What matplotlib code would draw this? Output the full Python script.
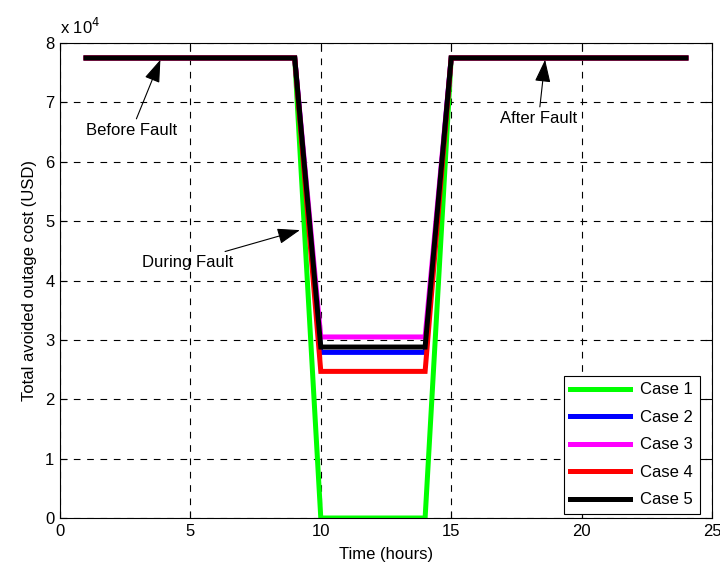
import matplotlib.pyplot as plt
import numpy as np

plt.rcParams['font.family'] = ['Liberation Sans', 'DejaVu Sans']

hours = np.arange(1, 25)
normal = 77500
plateau = {
    "Case 1": 0,
    "Case 2": 27900,
    "Case 3": 30500,
    "Case 4": 24700,
    "Case 5": 28800,
}
colors = ["#00ff00", "#0000ff", "#ff00ff", "#ff0000", "#000000"]
fault_hours = [10, 11, 12, 13, 14]

fig = plt.figure(figsize=(7.2, 5.66), dpi=100)
ax = fig.add_axes([0.0833, 0.0848, 0.9056, 0.839])

for (name, val), c in zip(plateau.items(), colors):
    y = np.where(np.isin(hours, fault_hours), val, normal) / 1e4
    ax.plot(hours, y, color=c, lw=3.6, label=name, solid_joinstyle='miter')

ax.set_xlim(0, 25)
ax.set_ylim(0, 8)
ax.set_xticks(np.arange(0, 26, 5))
ax.set_yticks(np.arange(0, 9, 1))
ax.grid(True, color='black', linestyle=(0, (6, 6)), lw=0.8)
ax.tick_params(direction='in', top=True, right=True, labelsize=12, length=5, pad=4)
for s in ax.spines.values():
    s.set_linewidth(0.8)
ax.set_xlabel("Time (hours)", fontsize=12, labelpad=6)
ax.set_ylabel("Total avoided outage cost (USD)", fontsize=12, labelpad=6)
ax.text(0.0, 1.012, r"x 10$^4$", transform=ax.transAxes, fontsize=12, va='bottom')

arrow = dict(arrowstyle='-|>,head_length=1.0,head_width=0.35', color='black',
             lw=0.8, mutation_scale=14, shrinkA=1, shrinkB=0)
ax.annotate("Before Fault", xy=(3.85, 7.72), xytext=(2.75, 6.53), fontsize=12,
            ha='center', va='center', arrowprops=arrow)
ax.annotate("After Fault", xy=(18.6, 7.72), xytext=(18.35, 6.73), fontsize=12,
            ha='center', va='center', arrowprops=arrow)
ax.annotate("During Fault", xy=(9.2, 4.85), xytext=(4.9, 4.31), fontsize=12,
            ha='center', va='center', arrowprops=arrow)

leg = ax.legend(loc='lower right', bbox_to_anchor=(0.9816, 0.0084), borderaxespad=0,
                fontsize=12, handlelength=3.6, fancybox=False, edgecolor='black',
                framealpha=1, labelspacing=0.75, handletextpad=0.6)
leg.get_frame().set_linewidth(0.8)

fig.savefig("out.png", dpi=100)
